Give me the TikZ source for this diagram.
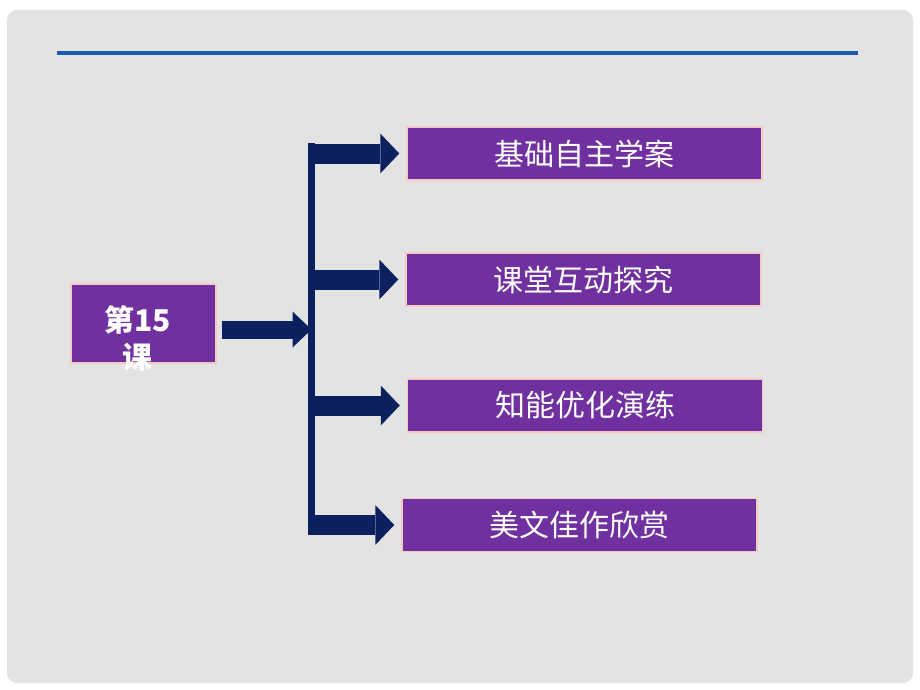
\documentclass[tikz,border=0pt]{standalone}
\usepackage{fontspec}
\newfontfamily\cjk{Noto Sans CJK SC}
\usetikzlibrary{arrows.meta}

\definecolor{slidegray}{HTML}{E3E3E3}
\definecolor{ruleblue}{HTML}{1A5CAB}
\definecolor{boxpurple}{HTML}{7030A0}
\definecolor{boxrim}{HTML}{F3C9C3}
\definecolor{barnavy}{HTML}{0C1F5E}

\tikzset{
  topicbox/.style={fill=boxpurple, draw=boxrim, line width=1.5pt, minimum width=355pt,
    minimum height=53pt, inner sep=0pt, text=white, font=\cjk\fontsize{30pt}{36pt}\selectfont},
  lessonbox/.style={fill=boxpurple, draw=boxrim, line width=1.5pt, minimum width=145pt,
    minimum height=79pt, inner sep=0pt},
  lessonlabel/.style={text=white, align=center, inner sep=0pt,
    font=\cjk\bfseries\fontsize{30pt}{37pt}\selectfont},
  branch/.style={draw=barnavy, line width=20pt, -{Triangle[length=19pt,width=40pt,line width=0pt]}},
  feed/.style={draw=barnavy, line width=18pt, -{Triangle[length=19pt,width=36pt,line width=0pt]}},
}

\begin{document}
\begin{tikzpicture}[x=1pt,y=-1pt]
\useasboundingbox (0,0) rectangle (920,690);
\fill[white] (0,0) rectangle (920,690);
\fill[slidegray, rounded corners=10pt] (7,10) rectangle (913,683);
\draw[ruleblue, line width=4pt] (57,53) -- (858,53);

  \node[lessonbox, label={[lessonlabel, xshift=-6pt, yshift=-15pt]center:{第15\\课}}] (lesson) at (143.5,323.5) {};

  \foreach \n/\x/\y/\t in {study/584.5/153.5/基础自主学案, explore/583.5/279.5/课堂互动探究,
                          practice/585/405.5/知能优化演练, reading/579.5/525/美文佳作欣赏}
    \node[topicbox] (\n) at (\x,\y) {\t};

  \coordinate (bartop) at (311.5,143);
  \coordinate (barbot) at (311.5,535);
  \draw[barnavy, line width=7pt] (bartop) -- (barbot);

  \coordinate (feedstart) at ([xshift=5pt,yshift=-6pt]lesson.east);
  \draw[feed] (feedstart) -- (feedstart -| bartop) ;

  \foreach \n in {study,explore,practice,reading}
  	\draw[branch] (bartop |- \n.west) -- ([xshift=-7pt]\n.west);
\end{tikzpicture}
\end{document}
